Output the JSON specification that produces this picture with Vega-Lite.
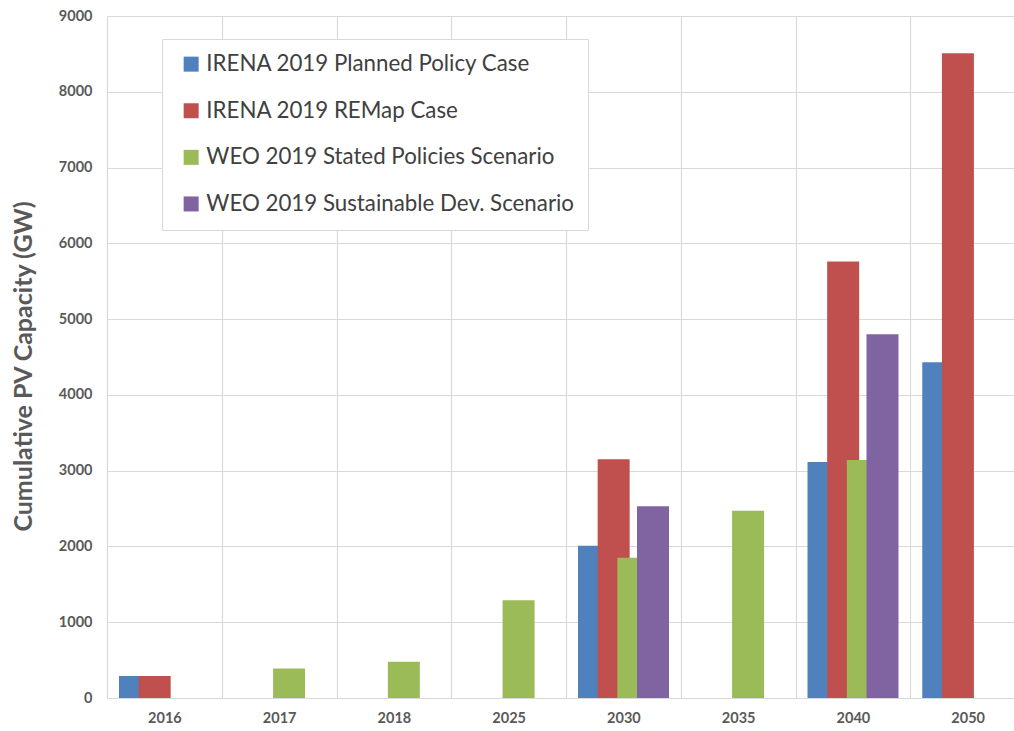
{
  "$schema": "https://vega.github.io/schema/vega-lite/v6.json",
  "autosize": {"type": "none"},
  "padding": {"left": 107, "top": 16, "right": 0, "bottom": 33},
  "width": 907,
  "height": 682,
  "background": "white",
  "data": {
    "values": [
      {"year": "2016", "series": "IRENA 2019 Planned Policy Case", "value": 290},
      {"year": "2030", "series": "IRENA 2019 Planned Policy Case", "value": 2010},
      {"year": "2040", "series": "IRENA 2019 Planned Policy Case", "value": 3115},
      {"year": "2050", "series": "IRENA 2019 Planned Policy Case", "value": 4430},
      {"year": "2016", "series": "IRENA 2019 REMap Case", "value": 290},
      {"year": "2030", "series": "IRENA 2019 REMap Case", "value": 3150},
      {"year": "2040", "series": "IRENA 2019 REMap Case", "value": 5760},
      {"year": "2050", "series": "IRENA 2019 REMap Case", "value": 8510},
      {"year": "2017", "series": "WEO 2019 Stated Policies Scenario", "value": 390},
      {"year": "2018", "series": "WEO 2019 Stated Policies Scenario", "value": 480},
      {"year": "2025", "series": "WEO 2019 Stated Policies Scenario", "value": 1290},
      {"year": "2030", "series": "WEO 2019 Stated Policies Scenario", "value": 1850},
      {"year": "2035", "series": "WEO 2019 Stated Policies Scenario", "value": 2470},
      {"year": "2040", "series": "WEO 2019 Stated Policies Scenario", "value": 3140},
      {"year": "2030", "series": "WEO 2019 Sustainable Dev. Scenario", "value": 2530},
      {"year": "2040", "series": "WEO 2019 Sustainable Dev. Scenario", "value": 4800}
    ]
  },
  "mark": {"type": "bar", "width": 32},
  "encoding": {
    "x": {
      "field": "year",
      "type": "ordinal",
      "sort": ["2016", "2017", "2018", "2025", "2030", "2035", "2040", "2050"],
      "scale": {"domain": ["2016", "2017", "2018", "2025", "2030", "2035", "2040", "2050"], "range": [0, 918], "paddingInner": 0, "paddingOuter": 0},
      "axis": {
        "title": null,
        "labelAngle": 0,
        "labelFont": "Lato",
        "labelFontWeight": "bold",
        "labelFontSize": 14.5,
        "labelColor": "#595959",
        "labelPadding": 13,
        "ticks": false,
        "tickBand": "extent",
        "grid": true,
        "gridColor": "#d9d9d9",
        "gridWidth": 1.2,
        "domain": true,
        "domainColor": "#d9d9d9",
        "domainWidth": 1.2
      }
    },
    "xOffset": {
      "field": "series",
      "type": "nominal",
      "sort": ["IRENA 2019 Planned Policy Case", "IRENA 2019 REMap Case", "WEO 2019 Stated Policies Scenario", "WEO 2019 Sustainable Dev. Scenario"],
      "scale": {"type": "point", "range": [28, 87], "padding": 0}
    },
    "y": {
      "field": "value",
      "type": "quantitative",
      "scale": {"domain": [0, 9000], "nice": false},
      "axis": {
        "title": "Cumulative PV Capacity (GW)",
        "titleFont": "Lato",
        "titleFontWeight": "bold",
        "titleFontSize": 25,
        "titleColor": "#595959",
        "titleX": -84,
        "titleY": 350,
        "titleAngle": -90,
        "titleAlign": "center",
        "titleBaseline": "middle",
        "values": [0, 1000, 2000, 3000, 4000, 5000, 6000, 7000, 8000, 9000],
        "format": "d",
        "labelFont": "Lato",
        "labelFontWeight": "bold",
        "labelFontSize": 14.5,
        "labelColor": "#595959",
        "labelPadding": 15,
        "ticks": false,
        "domain": false,
        "grid": true,
        "gridColor": "#d9d9d9",
        "gridWidth": 1.2
      }
    },
    "color": {
      "field": "series",
      "type": "nominal",
      "scale": {
        "domain": ["IRENA 2019 Planned Policy Case", "IRENA 2019 REMap Case", "WEO 2019 Stated Policies Scenario", "WEO 2019 Sustainable Dev. Scenario"],
        "range": ["#4F81BD", "#C0504D", "#9BBB59", "#8064A2"]
      },
      "legend": {
        "title": null,
        "orient": "none",
        "legendX": 55,
        "legendY": 23,
        "padding": 14,
        "symbolOffset": 4,
        "fillColor": "white",
        "strokeColor": "#d9d9d9",
        "symbolType": "square",
        "symbolSize": 225,
        "symbolStrokeWidth": 0,
        "labelFont": "Lato",
        "labelFontSize": 22.3,
        "labelColor": "#404040",
        "labelOffset": 4,
        "rowPadding": 23.6,
        "labelLimit": 600,
        "labelExpr": "datum.label + '\u00a0\u00a0\u00a0\u00a0\u00a0\u00a0\u00a0\u00a0\u00a0\u00a0\u00a0\u00a0\u00a0'"
      }
    }
  },
  "config": {"view": {"stroke": null}}
}
